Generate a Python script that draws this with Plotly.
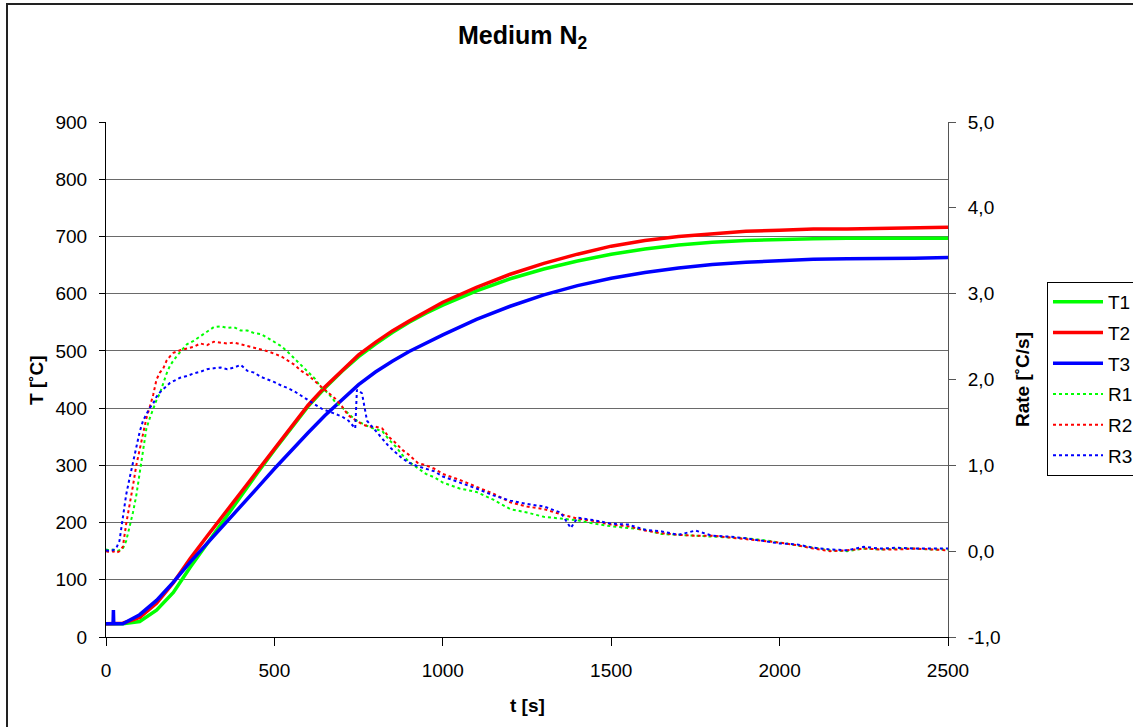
import plotly.graph_objects as go

# ---------------- data ----------------
t_T = [0, 21, 22, 23, 50, 100, 150, 200, 250, 300, 350, 400, 450, 500, 550, 600, 650, 700,
       750, 800, 850, 900, 950, 1000, 1100, 1200, 1300, 1400, 1500, 1600, 1700, 1800, 1900,
       2000, 2100, 2200, 2300, 2400, 2500]
T1 = [23, 23, 23, 23, 23, 27, 47, 78, 122, 163, 205, 246, 287, 327, 366, 403, 435, 464,
      490, 512, 532, 550, 566, 580, 605, 626, 643, 657, 669, 678, 685, 690, 693,
      695, 696, 697, 697, 697, 697]
T2 = [23, 23, 23, 23, 24, 34, 59, 95, 137, 176, 214, 253, 291, 330, 368, 405, 437, 466,
      493, 515, 535, 552, 569, 585, 611, 634, 653, 669, 683, 693, 700, 705, 709,
      711, 713, 713, 714, 714, 716]
T3 = [23, 23, 47, 23, 23, 39, 64, 96, 131, 163, 196, 228, 261, 294, 326, 357, 387, 415,
      441, 463, 482, 499, 514, 528, 555, 578, 598, 614, 627, 637, 645, 651, 655,
      658, 660, 661, 661, 662, 663]

t_R = [0, 10, 20, 30, 40, 50, 60, 70, 80, 90, 100, 110, 120, 130, 140, 150, 160, 170, 180,
       190, 200, 220, 240, 260, 280, 300, 320, 340, 360, 380, 400, 420, 440, 460, 480, 500,
       520, 540, 560, 580, 600, 620, 640, 660, 680, 700, 720, 740, 760, 780, 800, 820, 840,
       860, 880, 900, 925, 950, 975, 1000, 1050, 1100, 1150, 1200, 1250, 1300, 1350, 1400,
       1450, 1500, 1550, 1600, 1650, 1700, 1750, 1800, 1850, 1900, 1950, 2000, 2050, 2100,
       2150, 2200, 2250, 2300, 2350, 2400, 2450, 2500]
R1 = [0.02, 0.01, 0.02, 0.00, 0.01, 0.03, 0.12, 0.27, 0.45, 0.65, 0.90, 1.17, 1.43, 1.55,
      1.66, 1.76, 1.84, 1.96, 2.07, 2.16, 2.22, 2.32, 2.41, 2.45, 2.50, 2.55, 2.61, 2.62,
      2.60, 2.61, 2.57, 2.57, 2.54, 2.53, 2.48, 2.44, 2.39, 2.32, 2.24, 2.16, 2.08, 2.01,
      1.90, 1.84, 1.74, 1.68, 1.60, 1.53, 1.49, 1.45, 1.42, 1.40, 1.30, 1.22, 1.12, 1.04,
      0.97, 0.90, 0.86, 0.80, 0.73, 0.69, 0.60, 0.49, 0.45, 0.40, 0.38, 0.36, 0.32, 0.29,
      0.27, 0.25, 0.20, 0.19, 0.18, 0.17, 0.16, 0.15, 0.13, 0.10, 0.07, 0.04, 0.01, 0.00,
      0.03, 0.02, 0.03, 0.03, 0.02, 0.02]
R2 = [0.00, -0.01, 0.00, -0.02, 0.00, 0.05, 0.32, 0.53, 0.76, 1.00, 1.19, 1.37, 1.55, 1.68,
      1.82, 2.00, 2.08, 2.13, 2.22, 2.27, 2.31, 2.34, 2.36, 2.38, 2.42, 2.40, 2.44, 2.43,
      2.42, 2.43, 2.41, 2.39, 2.37, 2.35, 2.33, 2.30, 2.27, 2.22, 2.17, 2.10, 2.05, 1.98,
      1.91, 1.85, 1.78, 1.69, 1.58, 1.53, 1.48, 1.45, 1.45, 1.43, 1.33, 1.26, 1.18, 1.12,
      1.03, 1.00, 0.96, 0.90, 0.83, 0.75, 0.67, 0.57, 0.52, 0.49, 0.43, 0.38, 0.35, 0.31,
      0.29, 0.24, 0.21, 0.19, 0.18, 0.18, 0.16, 0.14, 0.12, 0.10, 0.07, 0.03, 0.00, 0.01,
      0.03, 0.02, 0.02, 0.03, 0.02, 0.01]

t_R3 = [0, 10, 20, 30, 40, 50, 60, 70, 80, 90, 100, 110, 120, 130, 140, 150, 160, 170, 180,
        190, 200, 220, 240, 260, 280, 300, 320, 340, 360, 380, 400, 420, 440, 460, 480, 500,
        520, 540, 560, 580, 600, 620, 640, 660, 680, 700, 720, 740, 745, 760, 775, 790, 800,
        820, 840, 860, 880, 900, 925, 950, 975, 1000, 1050, 1100, 1150, 1200, 1250, 1300,
        1350, 1380, 1400, 1450, 1500, 1550, 1600, 1650, 1700, 1750, 1800, 1850, 1900, 1950,
        2000, 2050, 2100, 2150, 2200, 2250, 2300, 2350, 2400, 2450, 2500]
R3 = [0.01, 0.00, 0.01, 0.03, 0.12, 0.40, 0.66, 0.85, 1.03, 1.20, 1.39, 1.52, 1.60, 1.67,
      1.72, 1.80, 1.85, 1.89, 1.93, 1.96, 1.98, 2.02, 2.04, 2.07, 2.09, 2.12, 2.13, 2.14,
      2.12, 2.14, 2.17, 2.10, 2.08, 2.03, 2.00, 1.97, 1.93, 1.90, 1.86, 1.81, 1.76, 1.70,
      1.66, 1.63, 1.60, 1.57, 1.52, 1.43, 1.88, 1.84, 1.52, 1.45, 1.40, 1.30, 1.22, 1.15,
      1.08, 1.03, 0.99, 0.96, 0.93, 0.87, 0.80, 0.73, 0.65, 0.59, 0.55, 0.52, 0.45, 0.27,
      0.39, 0.36, 0.32, 0.31, 0.25, 0.23, 0.19, 0.24, 0.18, 0.17, 0.15, 0.12, 0.09, 0.08,
      0.04, 0.02, 0.01, 0.05, 0.03, 0.04, 0.03, 0.03, 0.03]

left_ticks = [0, 100, 200, 300, 400, 500, 600, 700, 800, 900]
right_ticks = [-1, 0, 1, 2, 3, 4, 5]
right_ticktext = ["-1,0", "0,0", "1,0", "2,0", "3,0", "4,0", "5,0"]
x_ticks = [0, 500, 1000, 1500, 2000, 2500]

# ---------------- figure ----------------
FONT = "Arial, Liberation Sans, sans-serif"
GREEN, RED, BLUE = "#00FF00", "#FF0000", "#0000FF"
FS = 19

fig = go.Figure()
for name, y, c in [("T1", T1, GREEN), ("T2", T2, RED), ("T3", T3, BLUE)]:
    fig.add_trace(go.Scatter(x=t_T, y=y, name=name, mode="lines", legendgroup=name,
                             line=dict(color=c, width=3.5)))
for name, x, y, c in [("R1", t_R, R1, GREEN), ("R2", t_R, R2, RED), ("R3", t_R3, R3, BLUE)]:
    fig.add_trace(go.Scatter(x=x, y=y, name=name, mode="lines", yaxis="y2", legendgroup=name,
                             line=dict(color=c, width=2, dash="3px,3px")))

W, H = 1133, 727
L, R, T, B = 106, 948, 122, 637
pw, ph = R - L, B - T

def px(xp):
    return (xp - L) / pw

def py(yp):
    return (B - yp) / ph

fig.update_layout(
    width=W, height=H,
    margin=dict(l=L, r=W - R, t=T, b=H - B, autoexpand=False),
    paper_bgcolor="white", plot_bgcolor="white",
    font=dict(family=FONT, size=FS, color="black"),
    showlegend=True,
    legend=dict(x=px(1047), y=py(282), xanchor="left", yanchor="top",
                bordercolor="black", borderwidth=1, bgcolor="white",
                font=dict(family=FONT, size=FS, color="black"),
                itemwidth=50, traceorder="grouped", tracegroupgap=3),
    xaxis=dict(range=[0, 2500], tickvals=x_ticks, showgrid=False, zeroline=False,
               showline=True, linecolor="black", linewidth=1, ticks="outside", ticklen=8,
               tickcolor="black", ticklabelstandoff=8, tickfont=dict(size=FS)),
    yaxis=dict(range=[0, 900], tickvals=left_ticks, showgrid=True, gridcolor="#6a6a6a",
               gridwidth=1, zeroline=False, showline=True, linecolor="black", linewidth=1,
               ticks="outside", ticklen=6, tickcolor="black", ticklabelstandoff=8,
               tickfont=dict(size=FS)),
    yaxis2=dict(range=[-1, 5], overlaying="y", side="right", tickvals=right_ticks,
                ticktext=right_ticktext, showgrid=False, zeroline=False, showline=True,
                linecolor="#555555", linewidth=1, ticks="outside", ticklen=7,
                tickcolor="#555555", ticklabelstandoff=8, tickfont=dict(size=FS)),
    annotations=[
        dict(text="<b>Medium N<sub>2</sub></b>", x=px(522), y=py(37), xref="paper",
             yref="paper", showarrow=False, font=dict(family=FONT, size=25, color="black"),
             xanchor="center", yanchor="middle"),
        dict(text="<b>T [˚C]</b>", x=px(36), y=py(380), xref="paper", yref="paper",
             showarrow=False, textangle=-90, font=dict(family=FONT, size=FS),
             xanchor="center", yanchor="middle"),
        dict(text="<b>Rate [˚C/s]</b>", x=px(1022), y=py(380), xref="paper", yref="paper",
             showarrow=False, textangle=-90, font=dict(family=FONT, size=FS),
             xanchor="center", yanchor="middle"),
        dict(text="<b>t [s]</b>", x=px(527), y=py(705), xref="paper", yref="paper",
             showarrow=False, font=dict(family=FONT, size=FS),
             xanchor="center", yanchor="middle"),
    ],
    shapes=[dict(type="rect", xref="paper", yref="paper", x0=px(7), y0=py(4),
                 x1=px(1145), y1=py(740), line=dict(color="#222222", width=2),
                 fillcolor="rgba(0,0,0,0)", layer="below")],
)

fig.write_html("out.html")
